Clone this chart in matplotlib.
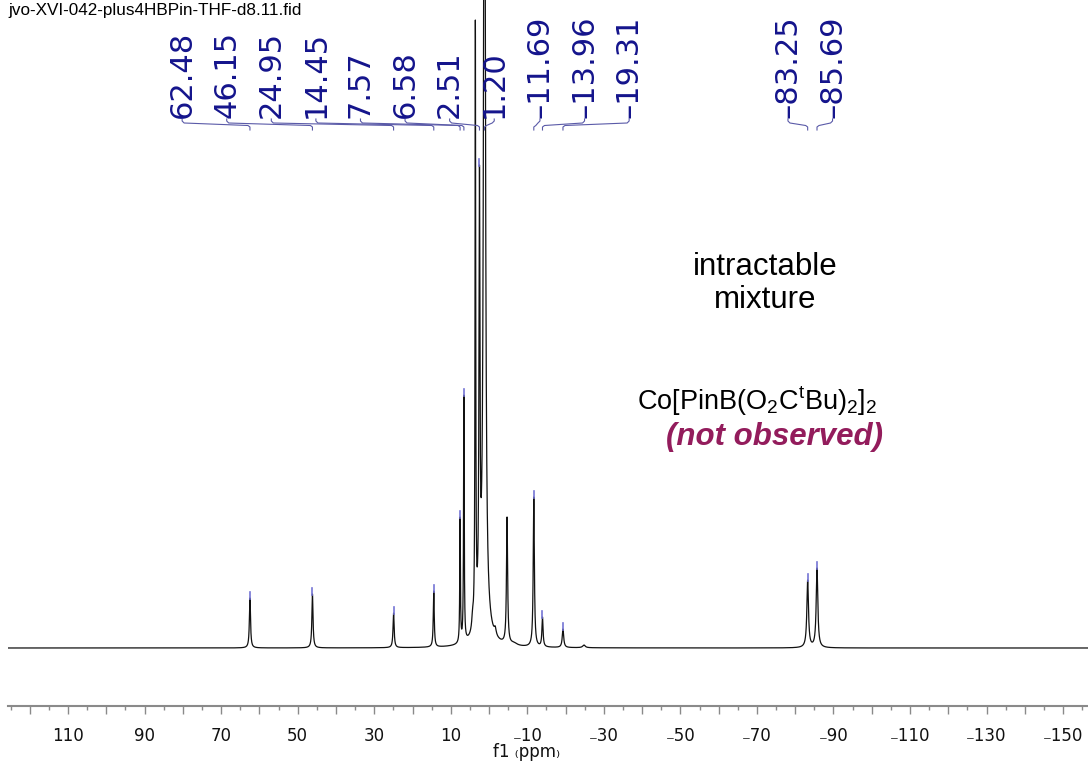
import numpy as np
import matplotlib
matplotlib.use('Agg')
import matplotlib.pyplot as plt
import matplotlib.transforms as mtransforms
from matplotlib.ticker import MultipleLocator, FuncFormatter

plt.rcParams['mathtext.fontset'] = 'custom'
plt.rcParams['mathtext.rm'] = 'Liberation Sans'
plt.rcParams['mathtext.it'] = 'Liberation Sans:italic'

title = 'jvo-XVI-042-plus4HBPin-THF-d8.11.fid'

# labelled signals (ppm) with the heights (baseline = 0)
peak_ppm = [62.48, 46.15, 24.95, 14.45, 7.57, 6.58, 2.51, 1.20,
            -11.69, -13.96, -19.31, -83.25, -85.69]
peak_height = [50, 54, 35, 57, 131, 253, 483, 1100, 151, 31, 19, 68, 80]
peak_fwhm = [0.35, 0.35, 0.35, 0.3, 0.2, 0.2, 0.3, 0.52,
             0.35, 0.35, 0.45, 0.5, 0.5]

# unlabelled sharp signals (THF residual, shoulder, -4.7 peak, small bumps)
extra_ppm = [3.58, 4.3, -1.6, -4.70, -6.5, -24.8]
extra_height = [628, 40, 22, 131, 6, 3]
extra_fwhm = [0.2, 0.5, 0.6, 0.35, 2.0, 0.8]

# broad hump under the solvent region
hump_ppm, hump_height, hump_fwhm = 1.5, 16, 4.0

# label groups: first label position (ppm) and number of labels in the group
group_start = [80.2, -13.3, -78.1]
group_count = [8, 3, 2]
slot = 11.65

xmax, xmin = 125.7, -156.5
ppm_per_px = (xmax - xmin) / 1080.0


def lorentz(x, c, w):
    return 1.0 / (1.0 + (2.0 * (x - c) / w) ** 2)


centers = np.array(peak_ppm + extra_ppm)
widths = np.array(peak_fwhm + extra_fwhm)
targets = np.array(peak_height + extra_height, dtype=float)
targets -= hump_height * lorentz(centers, hump_ppm, hump_fwhm)
M = lorentz(centers[:, None], centers[None, :], widths[None, :])
amps = np.linalg.solve(M, targets)

x = np.linspace(xmax, xmin, 60000)
spec = hump_height * lorentz(x, hump_ppm, hump_fwhm)
for c, w, a in zip(centers, widths, amps):
    spec += a * lorentz(x, c, w)

fig = plt.figure(figsize=(10.88, 7.61), dpi=100)
ax = fig.add_axes([8 / 1088, 55 / 761, 1080 / 1088, 706 / 761])
ax.plot(x, spec, color='#111111', lw=0.9)
ax.set_xlim(xmax, xmin)
ax.set_ylim(-58, 648)

for s in ['left', 'right', 'top']:
    ax.spines[s].set_visible(False)
ax.spines['bottom'].set_color('#8a8a8a')
ax.spines['bottom'].set_linewidth(1.5)
ax.set_yticks([])
ax.xaxis.set_major_locator(MultipleLocator(10))
ax.xaxis.set_minor_locator(MultipleLocator(5))


def fmt(v, pos):
    iv = int(round(v))
    if iv % 20 != 10:
        return ''
    return ('\u208b%d' % -iv) if iv < 0 else '%d' % iv


ax.xaxis.set_major_formatter(FuncFormatter(fmt))
ax.tick_params(axis='x', which='major', length=6, width=1, color='#8a8a8a',
               pad=9, labelsize=12, labelcolor='#111111')
ax.tick_params(axis='x', which='minor', length=3, width=1, color='#8a8a8a')

fig.text(493 / 1088, 1 - 752 / 761, 'f1 \u208dppm\u208e', ha='left', va='center',
         fontsize=12, color='#111111')

fig.text(8 / 1088, 1 - 11 / 761, title, ha='left', va='center', fontsize=12.3,
         family='Liberation Sans')

# peak labels with connectors
trans = mtransforms.blended_transform_factory(ax.transData, ax.transAxes)
navy = '#14148c'
line_c = '#5a5aa8'


def fy(p):
    return (706.0 - p) / 706.0


label_x = []
for st, n in zip(group_start, group_count):
    label_x += [st - k * slot for k in range(n)]

for lx, p in zip(label_x, peak_ppm):
    s = ('\u2013%.2f' % -p) if p < 0 else '%.2f' % p
    ax.text(lx, fy(118), s, transform=trans, rotation=90, ha='center',
            va='bottom', fontsize=22, color=navy, family='DejaVu Sans')
    d = 1 if p < lx else -1
    h = 2 * ppm_per_px * d
    xs = [lx, lx, lx - h, p + h, p, p]
    ys = [fy(119), fy(121), fy(123), fy(125.5), fy(127), fy(130)]
    ax.plot(xs, ys, transform=trans, color=line_c, lw=0.8, clip_on=False)
    top = np.interp(p, x[::-1], spec[::-1])
    if top < 630:
        ax.plot([p, p], [top - 1, top + 6], color='#7474d4', lw=1.2)

fig.text(765 / 1088, 1 - 267 / 761, 'intractable', ha='center', va='center',
         fontsize=22.5, family='Liberation Sans')
fig.text(765 / 1088, 1 - 300 / 761, 'mixture', ha='center', va='center',
         fontsize=22.5, family='Liberation Sans')
fig.text(757 / 1088, 1 - 401 / 761, r'Co[PinB(O$_2$C$^\mathrm{t}$Bu)$_2$]$_2$',
         ha='center', va='center', fontsize=19.5, family='Liberation Sans')
fig.text(775 / 1088, 1 - 437 / 761, '(not observed)', ha='center', va='center',
         fontsize=22.5, family='Liberation Sans', weight='bold', style='italic',
         color='#931c5c')

fig.savefig('out.png', dpi=100)
